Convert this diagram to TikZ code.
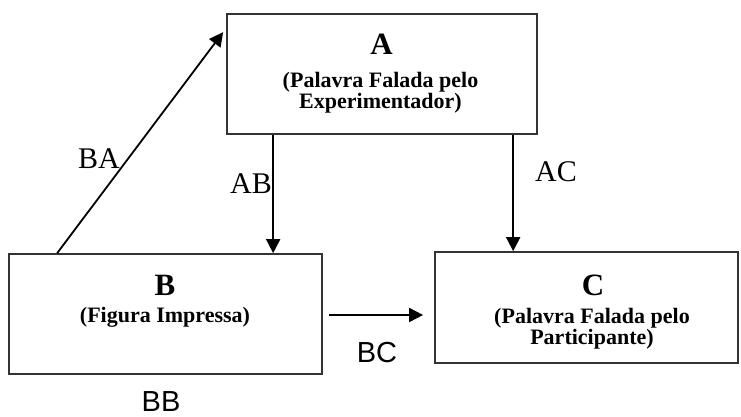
\documentclass[tikz,border=0pt]{standalone}
\usepackage{fontspec}
\setmainfont{Liberation Serif}
\newfontfamily\arialf{Liberation Sans}
\usetikzlibrary{arrows.meta}
\begin{document}
\begin{tikzpicture}[x=1pt,y=1pt,
  box/.style={draw=black!80,line width=1.7pt,rectangle,inner sep=0pt},
  head/.style={font=\fontsize{31}{31}\selectfont\bfseries,anchor=base,inner sep=0pt},
  sub/.style={font=\fontsize{22}{22}\selectfont\bfseries,anchor=base,inner sep=0pt},
  lab/.style={font=\fontsize{30}{30}\selectfont,anchor=base,inner sep=0pt},
  slab/.style={font=\arialf\fontsize{29}{29}\selectfont,anchor=base,inner sep=0pt},
  arr/.style={line width=1.8pt,-{Triangle[length=14pt,width=14pt]}}]
\useasboundingbox (0,0) rectangle (741,416);
% boxes
\node[box,minimum width=310,minimum height=120] (A) at (382,342) {};
\node[box,minimum width=313,minimum height=120] (B) at (165.5,102) {};
\node[box,minimum width=303,minimum height=111] (C) at (586.5,108.5) {};
% box texts
\node[head] (At) at (381.5,361) {A};
\node[sub] (A1) at (380.5,329) {(Palavra Falada pelo};
\node[sub] (A2) at (380.5,308) {Experimentador)};
\node[head] (Bt) at (165,121) {B};
\node[sub] (B1) at (165,94) {(Figura Impressa)};
\node[head] (Ct) at (593,121) {C};
\node[sub] (C1) at (592,93) {(Palavra Falada pelo};
\node[sub] (C2) at (592,72) {Participante)};
% connectors
\coordinate (BAs) at ([xshift=49pt]B.north west);
\coordinate (BAe) at ([xshift=-3pt,yshift=-19pt]A.north west);
\draw[arr] (BAs) -- (BAe);
\coordinate (ABs) at ([xshift=47pt]A.south west);
\draw[arr] (ABs) -- (ABs |- B.north);
\coordinate (ACs) at ([xshift=287pt]A.south west);
\draw[arr] (ACs) -- (ACs |- C.north);
\coordinate (BCe) at ([xshift=-11pt]B.east -| C.west);
\draw[arr,shorten <=6pt] ([yshift=-1pt]B.east) -- ([yshift=-1pt]BCe);
% labels
\node[lab] (lBA) at (99,248) {BA};
\node[lab] (lAB) at (251,223) {AB};
\node[lab] (lAC) at (556,235) {AC};
\node[slab] (lBC) at (377,54) {BC};
\node[slab] (lBB) at (161,5) {BB};
\end{tikzpicture}
\end{document}
